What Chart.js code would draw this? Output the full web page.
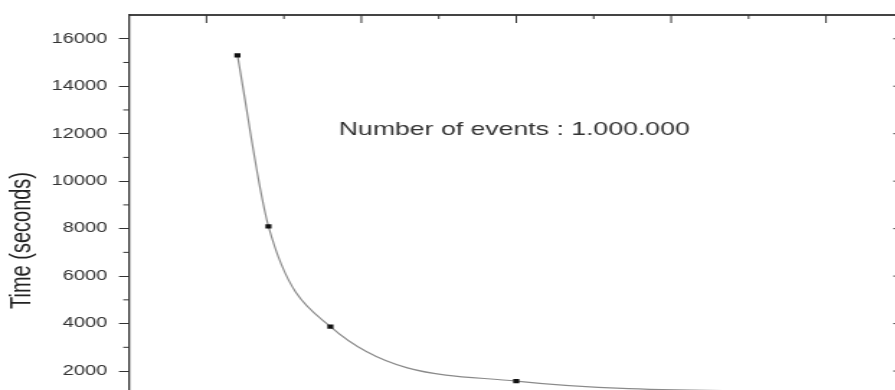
<!DOCTYPE html>
<html>
<head>
<meta charset="utf-8">
<script src="https://cdn.jsdelivr.net/npm/chart.js@4.4.0/dist/chart.umd.min.js"></script>
<style>
  html, body { margin: 0; padding: 0; background: #fff; overflow: hidden; }
  #viewport { width: 895px; height: 390px; overflow: hidden; }
  /* the reference is stretched horizontally, so the chart is drawn narrow and widened */
  #wrap { width: 640px; height: 470px; transform: scaleX(1.44); transform-origin: 0 0; }
</style>
</head>
<body>
<div id="viewport">
  <div id="wrap"><canvas id="chart-line_time" width="640" height="470"></canvas></div>
</div>
<script>
// ------------- DATOS
const runX = [1, 2, 4, 10, 20];
const runTime = [15300, 8100, 3870, 1575, 1100];
const yMajorTicks = [2000, 4000, 6000, 8000, 10000, 12000, 14000, 16000];
const yMinorTicks = [3000, 5000, 7000, 9000, 11000, 13000, 15000];
const xMajorTicks = [0, 5, 10, 15, 20];
const xMinorTicks = [2.5, 7.5, 12.5, 17.5];
const noteText = 'Number of events : 1.000.000';
const noteAt = [4.27, 12150];

const fontFamily = '"Liberation Sans", Arial, sans-serif';

// ------------- TICKS INTERIORES + TEXTO
const tickMarksPlugin = {
  id: 'tickMarks',
  afterDraw(chart) {
    const ctx = chart.ctx;
    const x = chart.scales.x;
    const y = chart.scales.y;
    const area = chart.chartArea;
    ctx.save();
    ctx.strokeStyle = '#333';
    ctx.lineWidth = 1;
    ctx.beginPath();
    xMajorTicks.forEach(function (v) {
      const px = x.getPixelForValue(v);
      ctx.moveTo(px, area.top);
      ctx.lineTo(px, area.top + 8);
    });
    xMinorTicks.forEach(function (v) {
      const px = x.getPixelForValue(v);
      ctx.moveTo(px, area.top);
      ctx.lineTo(px, area.top + 4);
    });
    yMajorTicks.forEach(function (v) {
      const py = y.getPixelForValue(v);
      ctx.moveTo(area.right, py);
      ctx.lineTo(area.right - 7, py);
    });
    yMinorTicks.forEach(function (v) {
      const py = y.getPixelForValue(v);
      ctx.moveTo(area.left, py);
      ctx.lineTo(area.left - 4, py);
      ctx.moveTo(area.right, py);
      ctx.lineTo(area.right - 4, py);
    });
    ctx.stroke();

    ctx.fillStyle = '#333';
    ctx.font = '18.5px ' + fontFamily;
    ctx.textBaseline = 'middle';
    ctx.textAlign = 'left';
    ctx.fillText(noteText, x.getPixelForValue(noteAt[0]), y.getPixelForValue(noteAt[1]));
    ctx.restore();
  }
};

// sin relleno extra por las etiquetas en los extremos
function fixVertical(scale, w) {
  scale.width = w;
  scale.paddingTop = 0;
  scale.paddingBottom = 0;
}

// ------------- GRÁFICO
const ctx = document.getElementById('chart-line_time').getContext('2d');
const myChartTime = new Chart(ctx, {
  type: 'line',
  data: {
    datasets: [{
      label: 'Time',
      data: runX.map(function (v, i) { return { x: v, y: runTime[i] }; }),
      borderColor: '#8a8a8a',
      borderWidth: 1.2,
      cubicInterpolationMode: 'monotone',
      pointStyle: 'rect',
      pointRadius: 3,
      pointBackgroundColor: '#111',
      pointBorderColor: '#111',
      pointBorderWidth: 0,
      fill: false
    }]
  },
  options: {
    responsive: false,
    animation: false,
    devicePixelRatio: 1,
    layout: { padding: { left: 0, right: 0, top: 0, bottom: 3 } },
    plugins: {
      legend: { display: false },
      tooltip: { enabled: false }
    },
    scales: {
      x: {
        type: 'linear',
        position: 'top',
        min: -2.5,
        max: 22.5,
        ticks: { display: false },
        grid: { display: true, drawOnChartArea: false, drawTicks: false },
        border: { display: true, color: '#444', width: 2 },
        afterFit: function (scale) { scale.height = 15; scale.paddingLeft = 0; scale.paddingRight = 0; }
      },
      y: {
        type: 'linear',
        position: 'left',
        min: -2000,
        max: 17000,
        afterBuildTicks: function (scale) {
          scale.ticks = yMajorTicks.map(function (v) { return { value: v }; });
        },
        ticks: {
          color: '#333',
          padding: 8,
          font: { family: fontFamily, size: 14 },
          callback: function (v) { return v; }
        },
        grid: { drawOnChartArea: false, tickLength: 7, tickColor: '#333', tickWidth: 1 },
        border: { display: true, color: '#333', width: 1.3 },
        title: {
          display: true,
          text: 'Time (seconds)',
          color: '#222',
          font: { family: fontFamily, size: 20 },
          padding: { top: 3, bottom: 0 }
        },
        afterFit: function (scale) { fixVertical(scale, 89.6); }
      },
      y2: {
        type: 'linear',
        position: 'right',
        min: -2000,
        max: 17000,
        ticks: { display: false },
        grid: { display: true, drawOnChartArea: false, drawTicks: false },
        border: { display: true, color: '#333', width: 1.3 },
        afterFit: function (scale) { fixVertical(scale, 12.6); }
      }
    }
  },
  plugins: [tickMarksPlugin]
});
</script>
</body>
</html>
